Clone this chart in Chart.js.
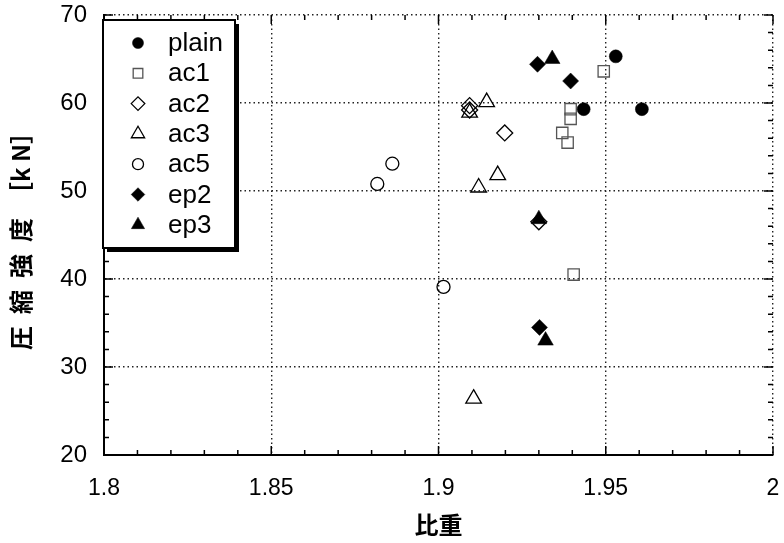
<!DOCTYPE html>
<html>
<head>
<meta charset="utf-8">
<script src="https://cdn.jsdelivr.net/npm/chart.js@4/dist/chart.umd.min.js"></script>
<style>
  html, body { margin: 0; padding: 0; background: #fff; }
</style>
</head>
<body>
<canvas id="chart" width="784" height="543"></canvas>
<script>
// [比重, 圧縮強度] pairs
const plain = [[1.953, 65.3], [1.9434, 59.3], [1.9608, 59.3]];
const ac1 = [[1.9494, 63.6], [1.9395, 59.3], [1.9395, 58.2], [1.937, 56.6], [1.9386, 55.5], [1.9404, 40.5]];
const ac2 = [[1.9093, 59.7], [1.9093, 59.2], [1.9198, 56.6], [1.930, 46.5]];
const ac3 = [[1.9144, 60.1], [1.9093, 58.9], [1.9177, 51.8], [1.912, 50.4], [1.9105, 26.4]];
const ac5 = [[1.8862, 53.1], [1.8817, 50.8], [1.9015, 39.1]];
const ep2 = [[1.9296, 64.4], [1.9395, 62.5], [1.9302, 34.5]];
const ep3 = [[1.934, 65.0], [1.930, 46.8], [1.932, 33.0]];

const xTickLabels = ["1.8", "1.85", "1.9", "1.95", "2"];
const yTickLabels = ["20", "30", "40", "50", "60", "70"];

const FONT = "'Liberation Sans', Arial, sans-serif";
const CJK = "'Noto Sans CJK JP', sans-serif";

function series(label, points, style, filled, radius, stroke) {
  return {
    label,
    data: points.map(p => ({ x: p[0], y: p[1] })),
    pointStyle: style,
    pointRadius: radius,
    pointHoverRadius: radius,
    pointBackgroundColor: filled ? "#000" : "rgba(255,255,255,0)",
    pointBorderColor: stroke || "#000",
    pointBorderWidth: filled ? 0.5 : 1.3,
    showLine: false
  };
}

// inward tick marks on all four sides, minor and major
const tickMarks = {
  id: "tickMarks",
  afterDatasetsDraw(chart) {
    const { ctx, chartArea: a, scales: { x, y } } = chart;
    ctx.save();
    ctx.strokeStyle = "#000";
    ctx.lineWidth = 1.5;
    ctx.beginPath();
    for (let i = 0; i <= 20; i++) {
      const px = x.getPixelForValue(1.8 + i * 0.01);
      const len = i % 5 === 0 ? 9 : 5;
      ctx.moveTo(px, a.bottom); ctx.lineTo(px, a.bottom - len);
      ctx.moveTo(px, a.top); ctx.lineTo(px, a.top + len);
    }
    for (let v = 20; v <= 70; v += 2) {
      const py = y.getPixelForValue(v);
      const len = v % 10 === 0 ? 9 : 5;
      ctx.moveTo(a.left, py); ctx.lineTo(a.left + len, py);
      ctx.moveTo(a.right, py); ctx.lineTo(a.right - len, py);
    }
    ctx.stroke();
    ctx.restore();
  }
};

const legendBox = {
  id: "legendBox",
  afterDraw(chart) {
    const { ctx, chartArea: a } = chart;
    const x0 = a.left - 1, y0 = a.top + 5, w = 132, h = 228;
    ctx.save();
    ctx.fillStyle = "#000";
    ctx.fillRect(x0 + 4, y0 + 4, w, h);
    ctx.fillStyle = "#fff";
    ctx.fillRect(x0, y0, w, h);
    ctx.strokeStyle = "#000";
    ctx.lineWidth = 2;
    ctx.strokeRect(x0, y0, w, h);
    ctx.font = "26px " + FONT;
    ctx.textBaseline = "middle";
    chart.data.datasets.forEach((ds, i) => {
      const cy = y0 + 23 + i * 30.3;
      ctx.fillStyle = ds.pointBackgroundColor;
      ctx.strokeStyle = ds.pointBorderColor;
      ctx.lineWidth = ds.pointBorderWidth;
      Chart.helpers.drawPoint(ctx, {
        pointStyle: ds.pointStyle,
        radius: ds.pointRadius * 0.85,
        rotation: 0,
        borderWidth: ds.pointBorderWidth
      }, x0 + 35, cy);
      ctx.fillStyle = "#000";
      ctx.fillText(ds.label, x0 + 65, cy + 1);
    });
    ctx.restore();
  }
};

new Chart(document.getElementById("chart"), {
  type: "scatter",
  data: {
    datasets: [
      series("plain", plain, "circle", true, 6.5),
      series("ac1", ac1, "rect", false, 8, "#555"),
      series("ac2", ac2, "rectRot", false, 8),
      series("ac3", ac3, "triangle", false, 9),
      series("ac5", ac5, "circle", false, 6.5),
      series("ep2", ep2, "rectRot", true, 8),
      series("ep3", ep3, "triangle", true, 9)
    ]
  },
  options: {
    responsive: false,
    animation: false,
    layout: { padding: { top: 15, right: 11, left: 0, bottom: 0 } },
    plugins: { legend: { display: false }, tooltip: { enabled: false } },
    scales: {
      x: {
        min: 1.8,
        max: 2.0,
        afterFit: s => { s.height = 88; s.paddingLeft = 0; s.paddingRight = 0; },
        ticks: {
          stepSize: 0.05,
          padding: 20,
          color: "#000",
          font: { family: FONT, size: 23 },
          maxRotation: 0,
          callback: (v, i) => xTickLabels[i]
        },
        grid: { color: "#222", lineWidth: 1.4, drawTicks: false },
        border: { display: true, color: "#000", width: 2, dash: [1.5, 3] },
        title: {
          display: true,
          text: "比重",
          color: "#000",
          font: { family: CJK, size: 24, weight: "bold" },
          padding: { top: 0, bottom: 4 }
        }
      },
      y: {
        min: 20,
        max: 70,
        afterFit: s => { s.width = 104; s.paddingTop = 0; s.paddingBottom = 0; },
        ticks: {
          stepSize: 10,
          padding: 17,
          color: "#000",
          font: { family: FONT, size: 24 },
          callback: (v, i) => yTickLabels[i]
        },
        grid: { color: "#222", lineWidth: 1.4, drawTicks: false },
        border: { display: true, color: "#000", width: 2, dash: [1.5, 3] },
        title: {
          display: true,
          text: "圧\u2002縮\u2002強\u2002度\u2002［k N］",
          color: "#000",
          font: { family: CJK, size: 24, weight: "bold" },
          padding: { top: 6, bottom: 0 }
        }
      }
    }
  },
  plugins: [tickMarks, legendBox]
});
</script>
</body>
</html>
